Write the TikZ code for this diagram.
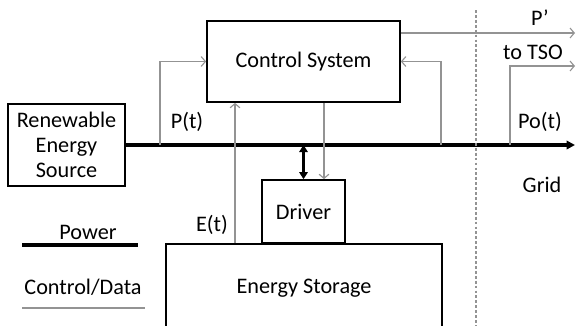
\documentclass[tikz,border=0pt]{standalone}
\usepackage{fontspec}
\setmainfont{Carlito}
\usetikzlibrary{arrows.meta}

\begin{document}
\begin{tikzpicture}[x=0.025cm,y=-0.025cm,
  blok/.style={draw,line width=1.2pt,inner sep=0pt,align=center,
    font=\fontsize{15.8}{17.6}\selectfont},
  lbl/.style={inner sep=0pt,font=\fontsize{15.8}{18}\selectfont},
  power/.style={line width=2.2pt},
  ctl/.style={draw=gray!85,line width=0.8pt,-{Straight Barb[length=3pt,width=7pt]}}
]

% cadre de l'image
\clip (0,0) rectangle (576,325);

% Blocs
\node[blok,minimum width=4.825cm,minimum height=2.025cm] (ctrl) at (303.5,61.5) {Control System};
\node[blok,minimum width=2.925cm,minimum height=2.05cm] (src) at (66.5,145) {Renewable\\Energy\\Source};
\node[blok,minimum width=2.075cm,minimum height=1.575cm] (drv) at (303.5,211.5) {Driver};
\node[blok,minimum width=6.9cm,minimum height=2.2cm] (stor) at (304,288) {Energy Storage};

% Points sur la ligne de puissance
\coordinate (ptap) at (160,145);
\coordinate (ftap) at (441,145);
\coordinate (ttap) at (510,145);
\coordinate (gend) at (575,145);
\coordinate (pend) at (575,33);
\coordinate (tend) at (575,66);

% Ligne de puissance
\draw[power,-{Triangle[length=6pt,width=6pt]}] (src.east) -- (gend);
\draw[power,{Triangle[length=5pt,width=6pt]}-{Triangle[length=5pt,width=6pt]}] (303.5,145) -- (drv.north);

% Controle / donnees
\draw[ctl] (ptap) |- (ctrl.west);
\draw[ctl] (stor.north -| 235,0) -- (ctrl.south -| 235,0);
\draw[ctl] (ctrl.south -| 324,0) -- (drv.north -| 324,0);
\draw[ctl] (ftap) |- (ctrl.east);
\draw[ctl] (ctrl.east |- pend) -- (pend);
\draw[ctl] (ttap) |- (tend);

% Limite du reseau
\draw[gray!85,line width=0.8pt,dash pattern=on 2pt off 1.5pt] (476,10) -- (476,330);

% Etiquettes
\node[lbl] (lp) at (187,122) {P(t)};
\node[lbl] (le) at (212,225) {E(t)};
\node[lbl] (lpo) at (540,122) {Po(t)};
\node[lbl] (lpp) at (540,18) {P’};
\node[lbl] (ltso) at (533,52) {to TSO};
\node[lbl] (lgrid) at (542,185) {Grid};

% Legende
\node[lbl] (legp) at (88,232) {Power};
\node[lbl] (legc) at (83,287) {Control/Data};
\draw[power] (22,245) -- (138,245);
\draw[gray!85,line width=0.8pt] (22,308) -- (145,308);

\end{tikzpicture}
\end{document}
